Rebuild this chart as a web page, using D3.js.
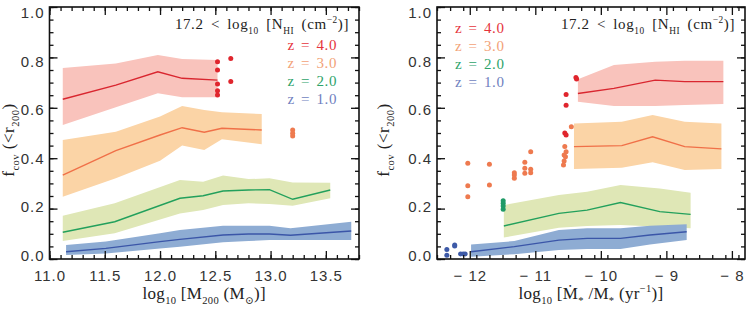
<!DOCTYPE html>
<html>
<head>
<meta charset="utf-8">
<script src="https://cdn.jsdelivr.net/npm/d3@7"></script>
<style>
  body { margin: 0; background: #fff; }
  .tick text { font-family: "Liberation Sans", Arial, sans-serif; font-size: 15px; fill: #333; letter-spacing: 1px; }
  .serif { font-family: "Liberation Serif", "DejaVu Serif", serif; }
</style>
</head>
<body>
<svg id="chart" width="750" height="310"></svg>
<script>
// ---- left panel: f_cov vs halo mass ----
const massZ4 = [11.12, 11.6, 11.98, 12.2, 12.52];
const fcovMassZ4 = [0.634, 0.69, 0.743, 0.717, 0.71];
const hiMassZ4 = [0.758, 0.776, 0.81, 0.794, 0.79];
const loMassZ4 = [0.532, 0.602, 0.658, 0.642, 0.642];

const massZ3 = [11.12, 11.6, 12.0, 12.2, 12.4, 12.56, 12.92];
const fcovMassZ3 = [0.333, 0.43, 0.492, 0.521, 0.503, 0.519, 0.512];
const hiMassZ3 = [0.472, 0.505, 0.565, 0.607, 0.591, 0.582, 0.575];
const loMassZ3 = [0.247, 0.32, 0.39, 0.45, 0.433, 0.475, 0.455];

const massZ2 = [11.12, 11.59, 12.18, 12.39, 12.57, 12.8, 12.99, 13.2, 13.54];
const fcovMassZ2 = [0.106, 0.148, 0.241, 0.251, 0.27, 0.274, 0.275, 0.237, 0.274];
const hiMassZ2 = [0.172, 0.221, 0.313, 0.307, 0.331, 0.317, 0.32, 0.304, 0.303];
const loMassZ2 = [0.071, 0.102, 0.181, 0.194, 0.214, 0.221, 0.218, 0.211, 0.241];

const massZ1 = [11.15, 11.51, 12.0, 12.18, 12.57, 12.8, 12.99, 13.18, 13.73];
const fcovMassZ1 = [0.029, 0.042, 0.069, 0.078, 0.095, 0.099, 0.099, 0.094, 0.111];
const hiMassZ1 = [0.056, 0.069, 0.102, 0.115, 0.132, 0.132, 0.132, 0.122, 0.148];
const loMassZ1 = [0.016, 0.022, 0.042, 0.049, 0.066, 0.071, 0.075, 0.075, 0.075];

const massDotsZ4 = [[12.52, 0.783], [12.52, 0.75], [12.52, 0.694], [12.52, 0.668], [12.52, 0.651], [12.64, 0.796], [12.64, 0.704]];
const massDotsZ3 = [[13.2, 0.512], [13.2, 0.499], [13.2, 0.488]];

// ---- right panel: f_cov vs specific star formation rate ----
const ssfrZ4 = [-10.35, -9.8, -9.17, -8.72, -8.13];
const fcovSsfrZ4 = [0.657, 0.677, 0.71, 0.704, 0.704];
const hiSsfrZ4 = [0.713, 0.77, 0.783, 0.787, 0.787];
const loSsfrZ4 = [0.624, 0.607, 0.607, 0.611, 0.615];

const ssfrZ3 = [-10.41, -9.68, -9.21, -8.72, -8.16];
const fcovSsfrZ3 = [0.446, 0.45, 0.485, 0.446, 0.437];
const hiSsfrZ3 = [0.538, 0.545, 0.571, 0.545, 0.538];
const loSsfrZ3 = [0.357, 0.362, 0.384, 0.353, 0.357];

const ssfrZ2 = [-11.48, -10.64, -10.21, -9.7, -9.1, -8.63];
const fcovSsfrZ2 = [0.131, 0.181, 0.194, 0.224, 0.188, 0.177];
const hiSsfrZ2 = [0.214, 0.254, 0.267, 0.294, 0.28, 0.263];
const loSsfrZ2 = [0.085, 0.124, 0.131, 0.135, 0.128, 0.122];

const ssfrZ1 = [-11.98, -11.32, -10.64, -10.21, -9.7, -9.25, -8.69];
const fcovSsfrZ1 = [0.029, 0.049, 0.075, 0.082, 0.082, 0.095, 0.108];
const hiSsfrZ1 = [0.058, 0.071, 0.115, 0.122, 0.122, 0.132, 0.138];
const loSsfrZ1 = [0.009, 0.019, 0.036, 0.04, 0.04, 0.058, 0.075];

const ssfrDotsZ4 = [[-10.38, 0.72], [-10.37, 0.714], [-10.53, 0.653], [-10.53, 0.61], [-10.55, 0.5], [-10.53, 0.492]];
const ssfrDotsZ3 = [[-12.03, 0.38], [-12.03, 0.291], [-12.03, 0.247], [-11.7, 0.376], [-11.7, 0.294],
  [-11.32, 0.342], [-11.32, 0.333], [-11.32, 0.32], [-11.16, 0.384], [-11.16, 0.36], [-11.16, 0.34],
  [-11.07, 0.426], [-11.07, 0.356], [-11.07, 0.342], [-10.45, 0.525], [-10.55, 0.446], [-10.53, 0.426],
  [-10.56, 0.413], [-10.54, 0.406], [-10.56, 0.389], [-10.57, 0.373]];
const ssfrDotsZ2 = [[-11.49, 0.231], [-11.49, 0.221], [-11.49, 0.21], [-11.49, 0.197]];
const ssfrDotsZ1 = [[-12.35, 0.038], [-12.35, 0.015], [-12.23, 0.056], [-12.23, 0.052], [-12.14, 0.02], [-12.1, 0.02], [-12.07, 0.02]];

const legendLabels = ["z = 4.0", "z = 3.0", "z = 2.0", "z = 1.0"];
const yTicks = [0.0, 0.2, 0.4, 0.6, 0.8, 1.0];
const massTicks = [11.0, 11.5, 12.0, 12.5, 13.0, 13.5];
const ssfrTicks = [-12, -11, -10, -9, -8];

const lineColors = ["#d9262f", "#f07048", "#22a05c", "#3b56a8"];
const bandColors = ["#f9c3bc", "#fbd4a6", "#dfe7b6", "#8eacd3"];
const dotColors = ["#e0252d", "#ee7a4f", "#1f9a66", "#3d5aa8"];
const legendColors = ["#e5333c", "#f2a277", "#2ea36a", "#6f7fc0"];

const svg = d3.select("#chart");

function rich(sel, parts, size) {
  let shift = 0;
  parts.forEach(([s, kind]) => {
    const target = kind === "sub" ? size * 0.3 : kind === "sup" ? -size * 0.4 : 0;
    sel.append("tspan")
      .attr("dy", target - shift)
      .attr("font-size", kind === "n" ? size : size * 0.62)
      .text(s);
    shift = target;
  });
}

function drawPanel(opt) {
  const x = d3.scaleLinear().domain(opt.xDomain).range(opt.xRange);
  const y = d3.scaleLinear().domain([0, 1]).range([259, 7]);
  const g = svg.append("g");
  const [x0, x1] = opt.xRange;

  // bands, then lines
  opt.series.forEach((s, i) => {
    const rows = s.x.map((v, j) => ({ x: v, m: s.m[j], lo: s.lo[j], hi: s.hi[j] }));
    g.append("path")
      .datum(rows)
      .attr("fill", bandColors[i])
      .attr("d", d3.area().x((d) => x(d.x)).y0((d) => y(d.lo)).y1((d) => y(d.hi)));
  });
  opt.series.forEach((s, i) => {
    const rows = s.x.map((v, j) => ({ x: v, m: s.m[j] }));
    g.append("path")
      .datum(rows)
      .attr("fill", "none")
      .attr("stroke", lineColors[i])
      .attr("stroke-width", 1.4)
      .attr("d", d3.line().x((d) => x(d.x)).y((d) => y(d.m)));
  });
  opt.dots.forEach((pts, i) => {
    if (!pts) return;
    g.selectAll(null)
      .data(pts)
      .enter()
      .append("circle")
      .attr("cx", (d) => x(d[0]))
      .attr("cy", (d) => y(d[1]))
      .attr("r", 2.5)
      .attr("fill", dotColors[i]);
  });

  // axes with inward ticks on all four sides
  const minorX = d3.range(opt.xDomain[0], opt.xDomain[1] + 1e-9, opt.xMinor);
  const minorY = d3.range(0, 1.0001, 0.05);
  const addAxis = (axis, tf, ticks, size, fmt) => {
    const a = g.append("g").attr("transform", tf)
      .call(axis.tickValues(ticks).tickSize(size).tickFormat(fmt));
    a.select(".domain").remove();
    a.selectAll(".tick line").attr("stroke", "#111").attr("stroke-width", 1.3);
    return a;
  };
  const xfmt = opt.xFormat;
  addAxis(d3.axisBottom(x).tickPadding(11), "translate(0,259)", opt.xTicks, -8, xfmt);
  addAxis(d3.axisBottom(x), "translate(0,259)", minorX, -4, "");
  addAxis(d3.axisTop(x), "translate(0,7)", opt.xTicks, -8, "");
  addAxis(d3.axisTop(x), "translate(0,7)", minorX, -4, "");
  const ya = addAxis(d3.axisLeft(y).tickPadding(5), `translate(${x0},0)`, yTicks, -8, d3.format(".1f"));
  // labels sit slightly inside the end ticks, as in the original
  ya.selectAll(".tick text").attr("y", (d) => -3.3 + 9 * d);
  addAxis(d3.axisLeft(y), `translate(${x0},0)`, minorY, -4, "");
  addAxis(d3.axisRight(y), `translate(${x1},0)`, yTicks, -8, "");
  addAxis(d3.axisRight(y), `translate(${x1},0)`, minorY, -4, "");

  g.append("rect")
    .attr("x", x0).attr("y", 7)
    .attr("width", x1 - x0).attr("height", 252)
    .attr("fill", "none").attr("stroke", "#111").attr("stroke-width", 1.6);

  // axis titles
  const yl = g.append("text").attr("class", "serif")
    .attr("transform", `translate(${opt.yLabelX},140) rotate(-90)`)
    .attr("text-anchor", "middle").attr("fill", "#222")
    .attr("letter-spacing", 0.5);
  rich(yl, [["f", "n"], ["cov", "sub"], [" (<r", "n"], ["200", "sub"], [")", "n"]], 17);

  const xl = g.append("text").attr("class", "serif")
    .attr("x", (x0 + x1) / 2).attr("y", 299)
    .attr("text-anchor", "middle").attr("fill", "#222")
    .attr("letter-spacing", 0.3);
  rich(xl, opt.xLabel, 17);

  // column density annotation
  const an = g.append("text").attr("class", "serif")
    .attr("x", x1 - 10).attr("y", 29)
    .attr("text-anchor", "end").attr("fill", "#222")
    .attr("letter-spacing", 0.6).attr("word-spacing", 3);
  rich(an, [["17.2 < log", "n"], ["10", "sub"], [" [N", "n"], ["HI", "sub"], [" (cm", "n"], ["−2", "sup"], [")]", "n"]], 15);

  // legend
  g.selectAll(null)
    .data(legendLabels)
    .enter()
    .append("text")
    .attr("class", "serif")
    .attr("x", opt.legendX)
    .attr("y", (d, i) => opt.legendY + i * 18)
    .attr("text-anchor", opt.legendAnchor)
    .attr("font-size", 15)
    .attr("letter-spacing", 0.6)
    .attr("word-spacing", 2)
    .attr("fill", (d, i) => legendColors[i])
    .text((d) => d);
}

drawPanel({
  xDomain: [11.0, 13.8],
  xRange: [49.5, 359],
  xTicks: massTicks,
  xMinor: 0.1,
  xFormat: d3.format(".1f"),
  yLabelX: 14,
  xLabel: [["log", "n"], ["10", "sub"], [" [M", "n"], ["200", "sub"], [" (M", "n"], ["⊙", "sub"], [")]", "n"]],
  legendX: 337,
  legendY: 50,
  legendAnchor: "end",
  series: [
    { x: massZ4, m: fcovMassZ4, lo: loMassZ4, hi: hiMassZ4 },
    { x: massZ3, m: fcovMassZ3, lo: loMassZ3, hi: hiMassZ3 },
    { x: massZ2, m: fcovMassZ2, lo: loMassZ2, hi: hiMassZ2 },
    { x: massZ1, m: fcovMassZ1, lo: loMassZ1, hi: hiMassZ1 }
  ],
  dots: [massDotsZ4, massDotsZ3, null, null]
});

drawPanel({
  xDomain: [-12.5, -7.8],
  xRange: [437, 745],
  xTicks: ssfrTicks,
  xMinor: 0.2,
  xFormat: (d) => "− " + Math.abs(d),
  yLabelX: 389,
  xLabel: [["log", "n"], ["10", "sub"], [" [Ṁ", "n"], ["*", "sub"], [" /M", "n"], ["*", "sub"], [" (yr", "n"], ["−1", "sup"], [")]", "n"]],
  legendX: 455,
  legendY: 33,
  legendAnchor: "start",
  series: [
    { x: ssfrZ4, m: fcovSsfrZ4, lo: loSsfrZ4, hi: hiSsfrZ4 },
    { x: ssfrZ3, m: fcovSsfrZ3, lo: loSsfrZ3, hi: hiSsfrZ3 },
    { x: ssfrZ2, m: fcovSsfrZ2, lo: loSsfrZ2, hi: hiSsfrZ2 },
    { x: ssfrZ1, m: fcovSsfrZ1, lo: loSsfrZ1, hi: hiSsfrZ1 }
  ],
  dots: [ssfrDotsZ4, ssfrDotsZ3, ssfrDotsZ2, ssfrDotsZ1]
});
</script>
</body>
</html>
